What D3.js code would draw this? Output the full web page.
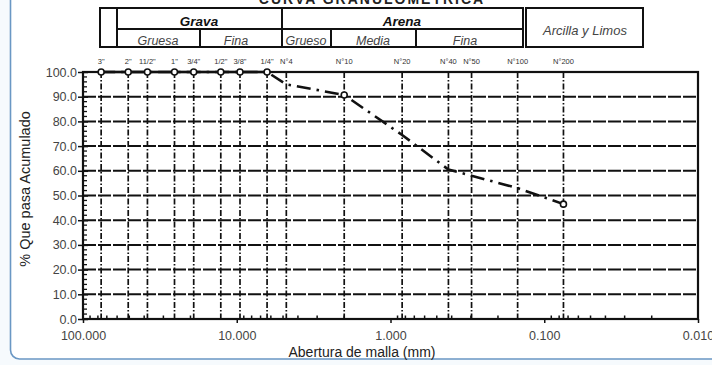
<!DOCTYPE html>
<html><head><meta charset="utf-8">
<script src="https://cdn.jsdelivr.net/npm/d3@7"></script>
<style>
html,body{margin:0;padding:0;background:#f6fafd;}
svg{display:block;font-family:Arial,"Liberation Sans",sans-serif;}
</style></head>
<body>
<svg id="c" width="712" height="365"></svg>
<script>
// ---- data ----
const sieveLabels = ['3"','2"','11/2"','1"','3/4"','1/2"','3/8"','1/4"','N°4','N°10','N°20','N°40','N°50','N°100','N°200'];
const sieveSizes  = [76.2, 50.8, 38.1, 25.4, 19.05, 12.7, 9.525, 6.35, 4.76, 2.0, 0.84, 0.42, 0.297, 0.149, 0.075];
const percentPassing = [100, 100, 100, 100, 100, 100, 100, 100, 95.0, 90.7, 74.5, 60.5, 58.0, 53.0, 46.5];
const markedSieves = ['3"','2"','11/2"','1"','3/4"','1/2"','3/8"','1/4"','N°10','N°200'];
const xTickValues = [100, 10, 1, 0.1, 0.01];
const yTickValues = [0,10,20,30,40,50,60,70,80,90,100];
const headerMain = ['Grava','Arena'];
const headerSub = ['Gruesa','Fina','Grueso','Media','Fina'];
const headerFines = 'Arcilla y Limos';
const title = 'CURVA GRANULOMETRICA';

const svg = d3.select('#c');
// frame
svg.append('rect').attr('x',10.5).attr('y',-20).attr('width',730).attr('height',379)
  .attr('rx',9).attr('fill','#fff').attr('stroke','#6a97c4').attr('stroke-width',1.6);

const L=83,R=698,T=72,B=319;
const x = d3.scaleLog().domain([100,0.01]).range([L,R]);
const y = d3.scaleLinear().domain([0,100]).range([B,T]);

// title (cut off at top, as in the reference)
svg.append('text').attr('x',372).attr('y',4).attr('text-anchor','middle')
  .attr('font-size',14).attr('font-weight','bold').attr('letter-spacing',2).attr('fill','#222').text(title);

// header table
const hdr = svg.append('g').attr('stroke','#111').attr('stroke-width',2).attr('fill','none');
hdr.append('rect').attr('x',100).attr('y',8).attr('width',423).attr('height',39);
hdr.append('line').attr('x1',117).attr('x2',117).attr('y1',8).attr('y2',47);
hdr.append('line').attr('x1',282).attr('x2',282).attr('y1',8).attr('y2',47);
hdr.append('line').attr('x1',117).attr('x2',523).attr('y1',29).attr('y2',29);
const subX = [200,331,416];
subX.forEach(v=>hdr.append('line').attr('x1',v).attr('x2',v).attr('y1',29).attr('y2',47));
hdr.append('rect').attr('x',526).attr('y',8).attr('width',117).attr('height',39);

const mainC = [199,402];
headerMain.forEach((t,i)=>svg.append('text').attr('x',mainC[i]).attr('y',25.5).attr('text-anchor','middle')
  .attr('font-size',13.5).attr('font-weight','bold').attr('font-style','italic').attr('fill','#111').text(t));
const subC = [158,236,306,373,465];
headerSub.forEach((t,i)=>svg.append('text').attr('x',subC[i]).attr('y',45).attr('text-anchor','middle')
  .attr('font-size',12.5).attr('font-style','italic').attr('fill','#444').text(t));
svg.append('text').attr('x',585).attr('y',35).attr('text-anchor','middle')
  .attr('font-size',13).attr('font-style','italic').attr('fill','#444').text(headerFines);

// horizontal grid
svg.append('g').selectAll('line').data(yTickValues.filter(v=>v>0&&v<100)).join('line')
  .attr('x1',L).attr('x2',R).attr('y1',d=>y(d)).attr('y2',d=>y(d))
  .attr('stroke','#111').attr('stroke-width',2).attr('stroke-dasharray','13,2');

// vertical sieve lines
svg.append('g').selectAll('line').data(sieveSizes).join('line')
  .attr('x1',d=>x(d)).attr('x2',d=>x(d)).attr('y1',T).attr('y2',B)
  .attr('stroke','#111').attr('stroke-width',1.7).attr('stroke-dasharray','6,2,1.5,2');

// sieve labels
svg.append('g').selectAll('text').data(sieveLabels).join('text')
  .attr('x',(d,i)=>x(sieveSizes[i])).attr('y',64).attr('text-anchor','middle')
  .attr('font-size',7.5).attr('fill','#333').text(d=>d);

// plot border
svg.append('rect').attr('x',L).attr('y',T).attr('width',R-L).attr('height',B-T)
  .attr('fill','none').attr('stroke','#111').attr('stroke-width',2.2);

// y axis
const yAxis = d3.axisLeft(y).tickValues(yTickValues).tickFormat(d3.format('.1f')).tickSize(5).tickPadding(1);
const gy = svg.append('g').attr('transform',`translate(${L},0)`).call(yAxis);
gy.select('.domain').remove();
gy.selectAll('.tick line').attr('stroke','#111').attr('stroke-width',1.5).attr('x2',-5).attr('x1',5);
gy.selectAll('.tick text').attr('font-size',12.5).attr('fill','#444').attr('font-family','Arial,"Liberation Sans",sans-serif');
// y minor ticks
const yMinor = d3.range(0,100,2).filter(v=>v%10!==0);
svg.append('g').selectAll('line').data(yMinor).join('line')
  .attr('x1',L).attr('x2',L+4).attr('y1',d=>y(d)).attr('y2',d=>y(d)).attr('stroke','#111').attr('stroke-width',1.3);

// x axis
const xAxis = d3.axisBottom(x).tickValues(xTickValues).tickFormat(d3.format('.3f')).tickSize(4).tickPadding(8);
const gx = svg.append('g').attr('transform',`translate(0,${B})`).call(xAxis);
gx.select('.domain').remove();
gx.selectAll('.tick line').attr('stroke','#111').attr('stroke-width',1.5);
gx.selectAll('.tick text').attr('font-size',12.5).attr('fill','#444').attr('font-family','Arial,"Liberation Sans",sans-serif');
// x minor ticks
const xMinor = [];
[0.01,0.1,1,10].forEach(b=>{for(let k=2;k<=9;k++) xMinor.push(b*k);});
svg.append('g').selectAll('line').data(xMinor).join('line')
  .attr('x1',d=>x(d)).attr('x2',d=>x(d)).attr('y1',B).attr('y2',B-3.5).attr('stroke','#111').attr('stroke-width',1.5);

// curve
const pts = sieveSizes.map((s,i)=>({s,p:percentPassing[i],lab:sieveLabels[i]}));
svg.append('path').datum(pts)
  .attr('d',d3.line().x(d=>x(d.s)).y(d=>y(d.p)))
  .attr('fill','none').attr('stroke','#111').attr('stroke-width',2.6)
  .attr('stroke-dasharray','14,6,2.5,6');
svg.append('path').datum(pts.filter(d=>d.p>=100))
  .attr('d',d3.line().x(d=>x(d.s)).y(d=>y(d.p)))
  .attr('fill','none').attr('stroke','#111').attr('stroke-width',2.6);
svg.append('g').selectAll('circle').data(pts.filter(d=>markedSieves.includes(d.lab))).join('circle')
  .attr('cx',d=>x(d.s)).attr('cy',d=>y(d.p)).attr('r',3)
  .attr('fill','#fff').attr('stroke','#111').attr('stroke-width',1.6);

// axis titles
svg.append('text').attr('transform','translate(30,189) rotate(-90)').attr('text-anchor','middle')
  .attr('font-size',14.5).attr('fill','#222').text('% Que pasa  Acumulado');
svg.append('text').attr('x',362).attr('y',357).attr('text-anchor','middle')
  .attr('font-size',14).attr('fill','#222').text('Abertura de malla (mm)');
</script>
</body></html>
